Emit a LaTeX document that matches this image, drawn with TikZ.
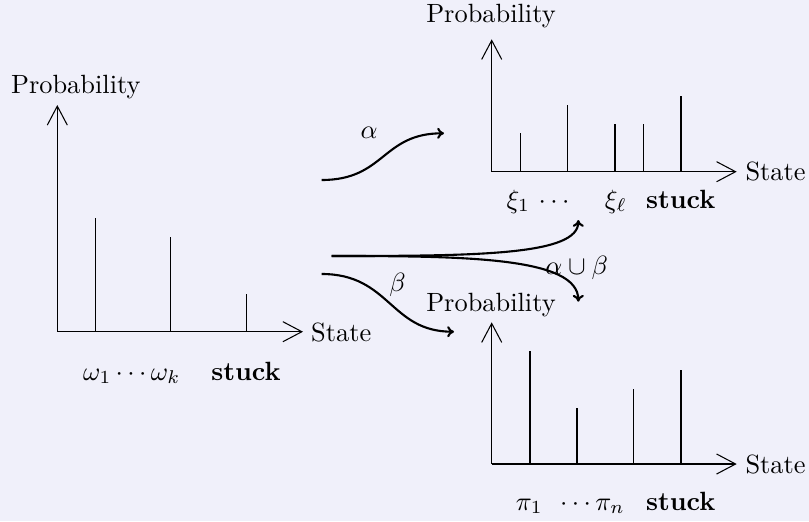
\documentclass[tikz,border=0pt]{standalone}
\usetikzlibrary{arrows.meta}
\definecolor{bgcol}{RGB}{240,240,250}
\begin{document}
\begin{tikzpicture}[x=0.379pt,y=-0.379pt,
  axis/.style={line width=0.4pt,-{Straight Barb[length=7.2pt,width=7.6pt]}},
  bar/.style={line width=0.4pt},
  flow/.style={thick,-{To[length=2.6pt,width=4.2pt]}},
  lbl/.style={inner sep=0pt,anchor=base},
  side/.style={inner sep=0pt,anchor=base west},
  glab/.style={inner sep=0pt}]
\fill[bgcol] (0,0) rectangle (809,521);
\useasboundingbox (0,0) rectangle (809,521);

% ---------- left graph ----------
\coordinate (Lo) at (57.3,331.7);
\coordinate (Ly) at (57.3,105);
\coordinate (Lx) at (303,331.7);
\draw[axis] (Lo) -- (Ly);
\draw[axis] (Lo) -- (Lx);
\draw[bar] (95.3,331.7) -- (95.3,218);
\draw[bar] (170.7,331.7) -- (170.7,237);
\draw[bar] (246.3,331.7) -- (246.3,294);
\node[lbl] (Lprob) at (75.8,93.5) {Probability};
\node[side] (Lstate) at (310.7,341.7) {State};
\node[lbl] (Lomega) at (131.7,380) {$\omega_1\cdots\omega_k$};
\node[lbl] (Lstuck) at (246,380) {\textbf{stuck}};

% ---------- top-right graph ----------
\coordinate (To) at (491.7,171.7);
\coordinate (Ty) at (491.7,39.3);
\coordinate (Tx) at (736.7,171.7);
\draw[axis] (To) -- (Ty);
\draw[axis] (To) -- (Tx);
\draw[bar] (520.3,171.7) -- (520.3,133.3);
\draw[bar] (567.7,171.7) -- (567.7,105.3);
\draw[bar] (615,171.7) -- (615,124.3);
\draw[bar] (643.3,171.7) -- (643.3,124.3);
\draw[bar] (681,171.7) -- (681,96);
\node[lbl] (Tprob) at (491,23) {Probability};
\node[side] (Tstate) at (745,180) {State};
\node[lbl] (Txi1) at (518.3,208) {$\xi_1$};
\node[lbl] (Tdots) at (554,208) {$\cdots$};
\node[lbl] (Txil) at (615.8,208) {$\xi_\ell$};
\node[lbl] (Tstuck) at (680.7,208) {\textbf{stuck}};

% ---------- bottom-right graph ----------
\coordinate (Bo) at (491.7,464);
\coordinate (By) at (491.7,322.3);
\coordinate (Bx) at (736.7,464);
\draw[axis] (Bo) -- (By);
\draw[axis] (Bo) -- (Bx);
\draw[bar] (530,464) -- (530,351);
\draw[bar] (577,464) -- (577,407.7);
\draw[bar] (633.3,464) -- (633.3,389);
\draw[bar] (681,464) -- (681,370);
\node[lbl] (Bprob) at (491,311) {Probability};
\node[side] (Bstate) at (745,473) {State};
\node[lbl] (Bpi1) at (529.2,510) {$\pi_1$};
\node[lbl] (Bpin) at (592.5,510) {$\cdots\pi_n$};
\node[lbl] (Bstuck) at (680.7,510) {\textbf{stuck}};

% ---------- flows ----------
\coordinate (as) at (321.7,180);
\coordinate (ae) at (444,133.3);
\draw[flow] (as) .. controls (385,180) and (382,133.3) .. (ae);
\node[glab] (alab) at (369,133.3) {$\alpha$};

\coordinate (bs) at (321.7,274);
\coordinate (be) at (454,331.7);
\draw[flow] (bs) .. controls (390,274) and (390,331.7) .. (be);
\node[glab] (blab) at (397.5,285) {$\beta$};

\coordinate (us) at (331.7,256);
\coordinate (ue) at (578.3,220);
\coordinate (de) at (578.3,301.7);
\draw[flow] (us) .. controls (480,256) and (578.3,255) .. (ue);
\draw[flow] (us) .. controls (465,256) and (578.3,257) .. (de);
\node[glab] (ulab) at (576.7,267.5) {$\alpha\cup\beta$};
\end{tikzpicture}
\end{document}
